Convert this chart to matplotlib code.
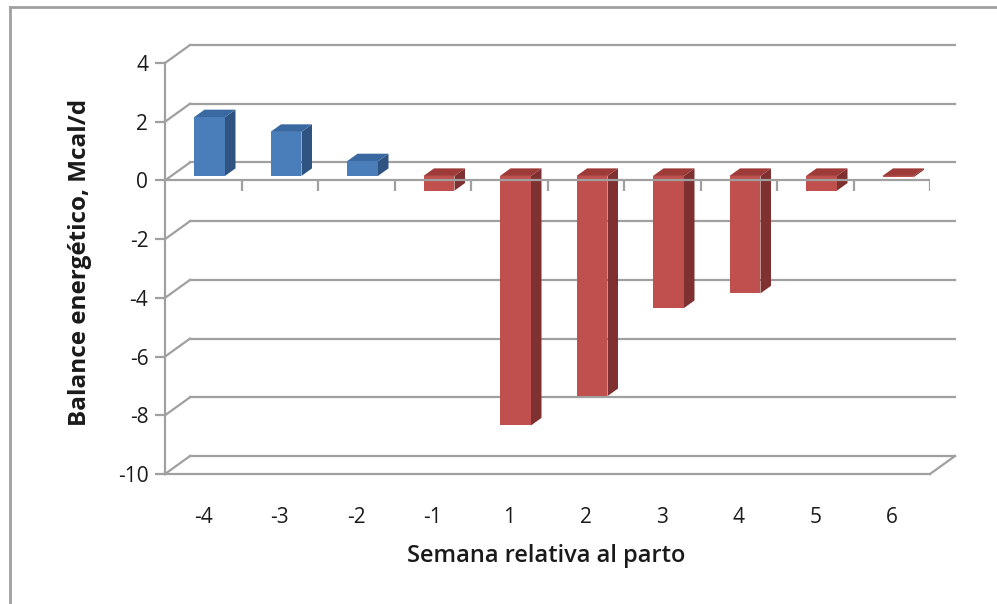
import numpy as np
import matplotlib.pyplot as plt
from matplotlib.patches import Polygon
from matplotlib.lines import Line2D

plt.rcParams['font.family'] = ['Open Sans', 'DejaVu Sans']

# semanas relativas al parto y balance energético (Mcal/d)
semanas = ["-4", "-3", "-2", "-1", "1", "2", "3", "4", "5", "6"]
balance = [2.0, 1.5, 0.5, -0.5, -8.5, -7.5, -4.5, -4.0, -0.5, -0.05]
yticks = [-10, -8, -6, -4, -2, 0, 2, 4]

# colores: cara frontal, lateral, superior
azul = ("#4A7EBB", "#2F5482", "#3A68A0")
rojo = ("#C0504D", "#7F3030", "#9E3B38")
gris = "#A0A0A0"

# desplazamiento de profundidad (plano trasero) en unidades de datos
DX, DY = 0.327, 0.613
f1, f2 = 0.25, 0.67   # profundidad de la cara frontal y trasera de las barras
ancho = 0.405

fig = plt.figure(figsize=(9.97, 6.04), dpi=100)
ax = fig.add_axes([165/997, 130/604, 765/997, 411/604])
ax.set_xlim(0, 10)
ax.set_ylim(-10, 4)
n = len(semanas)
x = np.arange(n) + 0.5

# paredes: lineas del fondo y diagonales de la pared izquierda
for v in yticks:
    ax.plot([DX, n + DX], [v + DY, v + DY], color=gris, lw=1.6, zorder=1, clip_on=False)
    ax.plot([0, DX], [v, v + DY], color=gris, lw=1.6, zorder=1, clip_on=False)
# borde derecho del suelo
ax.plot([n, n + DX], [-10, -10 + DY], color=gris, lw=1.6, zorder=1, clip_on=False)

# barras 3D
for xi, v in zip(x, balance):
    cf, cl, cs = azul if v >= 0 else rojo
    x0 = xi - ancho / 2
    x1 = xi + ancho / 2
    lo, hi = min(v, 0), max(v, 0)
    d1x, d1y = f1 * DX, f1 * DY
    d2x, d2y = f2 * DX, f2 * DY
    ax.bar(xi + d1x, v, width=ancho, bottom=d1y, color=cf, zorder=3)
    lado = [(x1 + d1x, lo + d1y), (x1 + d1x, hi + d1y), (x1 + d2x, hi + d2y), (x1 + d2x, lo + d2y)]
    tapa = [(x0 + d1x, hi + d1y), (x1 + d1x, hi + d1y), (x1 + d2x, hi + d2y), (x0 + d2x, hi + d2y)]
    ax.add_patch(Polygon(lado, closed=True, facecolor=cl, edgecolor="none", zorder=2.9))
    ax.add_patch(Polygon(tapa, closed=True, facecolor=cs, edgecolor="none", zorder=2.9))

# eje de categorias en 0 con marcas
ax.axhline(0, color=gris, lw=1.6, zorder=4)
ax.vlines(np.arange(1, n + 1), -0.36, 0, color=gris, lw=1.6, zorder=4)

for s in ["top", "right"]:
    ax.spines[s].set_visible(False)
for s in ["left", "bottom"]:
    ax.spines[s].set_color(gris)
    ax.spines[s].set_linewidth(1.6)

ax.set_yticks(yticks)
ax.set_yticklabels([str(t) for t in yticks])
ax.set_xticks(x)
ax.set_xticklabels(semanas)
ax.tick_params(axis="y", length=7, width=1.6, color=gris, pad=5, labelsize=15, labelcolor="#1a1a1a")
ax.tick_params(axis="x", length=0, pad=24, labelsize=15, labelcolor="#1a1a1a")
ax.set_facecolor("none")

fig.text(546/997, 1 - 556/604, "Semana relativa al parto", ha="center", va="center",
         fontsize=17, fontweight="semibold", color="#1a1a1a")
fig.text(80/997, 1 - 262/604, "Balance energético, Mcal/d", ha="center", va="center",
         rotation=90, fontsize=17.5, fontweight="bold", color="#1a1a1a")

# marco del grafico
fig.add_artist(Line2D([10/997, 10/997], [0, 1 - 7/604], color=gris, lw=2))
fig.add_artist(Line2D([10/997, 1], [1 - 7/604, 1 - 7/604], color=gris, lw=2))

fig.savefig("out.png", dpi=100)
